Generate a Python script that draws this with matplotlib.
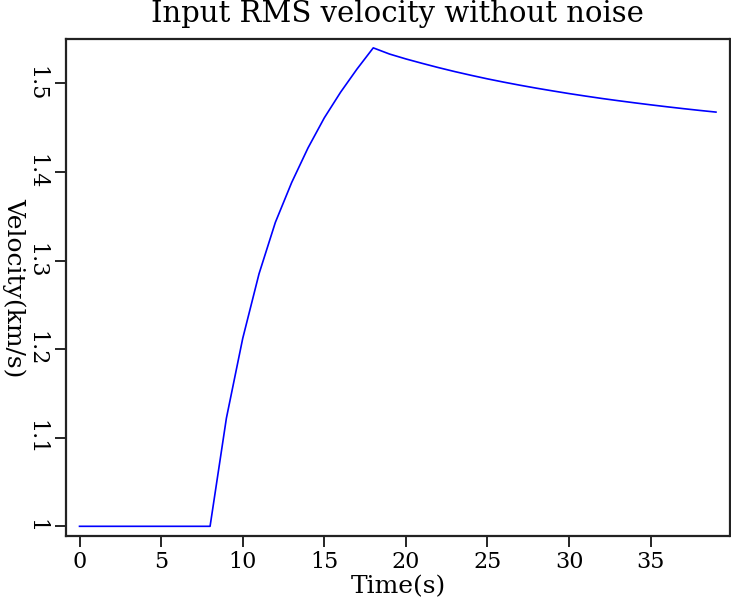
import numpy as np
import matplotlib
matplotlib.use('Agg')
import matplotlib.pyplot as plt

# time samples (s) and RMS velocity (km/s)
time = list(range(0, 40))
vrms = [1.0, 1.0, 1.0, 1.0, 1.0, 1.0, 1.0, 1.0, 1.0,
        1.122, 1.212, 1.285, 1.343, 1.388, 1.427, 1.461, 1.490, 1.516, 1.540,
        1.5330, 1.5275, 1.5225, 1.5177, 1.5132, 1.5090, 1.5050, 1.5013,
        1.4978, 1.4945, 1.4914, 1.4884, 1.4856, 1.4829, 1.4804, 1.4780,
        1.4757, 1.4735, 1.4714, 1.4694, 1.4675]

xticks = [0, 5, 10, 15, 20, 25, 30, 35]
yticks = [1.0, 1.1, 1.2, 1.3, 1.4, 1.5]
ytick_labels = ['1', '1.1', '1.2', '1.3', '1.4', '1.5']

plt.rcParams['font.family'] = ['DejaVu Serif']

fig = plt.figure(figsize=(7.31, 6.0), dpi=100)
ax = fig.add_axes([66.3/731, 1-535.7/600, (729.5-66.3)/731, (535.7-39)/600])

ax.plot(time, vrms, color='#0000ff', linewidth=1.2)

ax.set_xlim(-0.81, 39.83)
ax.set_ylim(0.9894, 1.55)
ax.set_xticks(xticks)
ax.set_yticks(yticks)
ax.set_yticklabels(ytick_labels)
ax.tick_params(direction='out', length=8, width=1.2, labelsize=16)
ax.tick_params(axis='x', pad=3)
ax.tick_params(axis='y', pad=6)
plt.setp(ax.get_yticklabels(), rotation=-90, va='center', ha='right')
for s in ax.spines.values():
    s.set_linewidth(1.6)
    s.set_color('#222222')

ax.set_title('Input RMS velocity without noise', fontsize=21, pad=12)
ax.set_xlabel('Time(s)', fontsize=18, va='center')
ax.xaxis.set_label_coords(0.5, -(587-535.7)/496.7)
ax.set_ylabel('Velocity(km/s)', fontsize=18, rotation=-90, va='center', ha='center')
ax.yaxis.set_label_coords(-(66.3-14)/663.2, 0.5)

fig.savefig('out.png', dpi=100)
